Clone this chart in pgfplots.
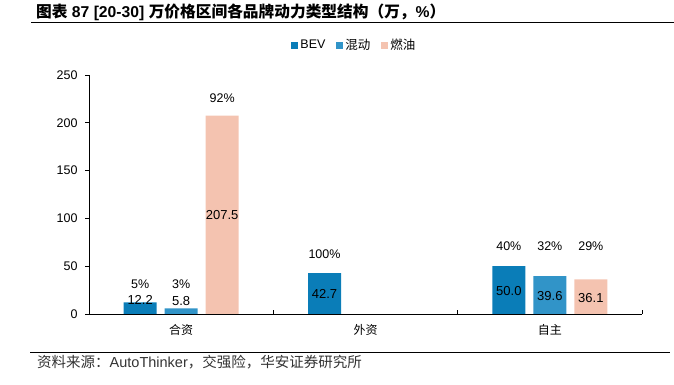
\documentclass[border=0pt]{standalone}
\usepackage{pgfplots}
\pgfplotsset{compat=1.18}
\usepackage{fontspec}
\setmainfont{Liberation Sans}
\newfontfamily\cjk{Noto Sans CJK SC}
\definecolor{cBEV}{HTML}{0A7DB8}
\definecolor{cHEV}{HTML}{3194C8}
\definecolor{cICE}{HTML}{F4C3B0}
\begin{document}
\begin{tikzpicture}[x=1pt,y=1pt]
\path[use as bounding box] (0,0) rectangle (674,385);
\node[anchor=west,inner sep=0] at (36,373) {\fontsize{15.7}{17}\selectfont\bfseries{\cjk\bfseries 图表} 87 [20-30] {\cjk\bfseries 万价格区间各品牌动力类型结构（万，}\%{\cjk\bfseries ）}};
\draw[line width=0.8pt] (31,363) -- (674,363);
\begin{axis}[at={(89pt,71pt)}, anchor=south west, width=553pt, height=239pt, scale only axis,
  xmin=-0.5, xmax=2.5, ymin=0, ymax=250,
  ytick={0,50,...,250}, xtick={0,1,2}, xticklabels={合资,外资,自主},
  minor xtick={-0.5,0.5,1.5,2.5},
  axis x line*=bottom, axis y line*=left, axis line style={-, line width=0.8pt},
  tick align=outside, major tick length=4pt, minor tick length=4pt,
  xtick style={draw=none},
  minor x tick style={yshift=4pt, line width=0.8pt, draw=black},
  ytick style={line width=0.8pt, black},
  /pgf/number format/assume math mode=true,
  yticklabel style={font=\fontsize{12.5}{14}\selectfont, xshift=-4pt},
  xticklabel style={font=\cjk\fontsize{12}{14}\selectfont, yshift=-3pt},
  legend style={at={(0.48,1.125)}, anchor=center, draw=none, legend columns=3,
    font=\fontsize{12.5}{14}\selectfont,
    /tikz/every even column/.append style={column sep=9pt}},
]
\addplot[ybar, bar width=33pt, bar shift=-41pt, fill=cBEV, draw=none,
  legend image code/.code={\fill[cBEV] (0pt,-3.5pt) rectangle (7pt,3.5pt);}] coordinates {(0,12.2) (1,42.7) (2,50.0)};
\addplot[ybar, bar width=33pt, bar shift=0pt, fill=cHEV, draw=none,
  legend image code/.code={\fill[cHEV] (0pt,-3.5pt) rectangle (7pt,3.5pt);}] coordinates {(0,5.8) (2,39.6)};
\addplot[ybar, bar width=33pt, bar shift=41pt, fill=cICE, draw=none,
  legend image code/.code={\fill[cICE] (0pt,-3.5pt) rectangle (7pt,3.5pt);}] coordinates {(0,207.5) (2,36.1)};
\legend{BEV,{\cjk 混动},{\cjk 燃油}}
% value labels
\begin{scope}[every node/.style={font=\fontsize{13}{14}\selectfont, inner sep=0}]
\node[xshift=-41pt] at (axis cs:0,14.6) {12.2};
\node at (axis cs:0,14) {5.8};
\node[xshift=41pt] at (axis cs:0,103.7) {207.5};
\node[xshift=-41pt] at (axis cs:1,21.3) {42.7};
\node[xshift=-41pt] at (axis cs:2,24.5) {50.0};
\node at (axis cs:2,18.8) {39.6};
\node[xshift=41pt] at (axis cs:2,16.8) {36.1};
\end{scope}
\begin{scope}[every node/.style={font=\fontsize{12.5}{14}\selectfont, inner sep=0}]
\node[xshift=-41pt] at (axis cs:0,31.4) {5\%};
\node at (axis cs:0,31.4) {3\%};
\node[xshift=41pt] at (axis cs:0,226) {92\%};
\node[xshift=-41pt] at (axis cs:1,62.8) {100\%};
\node[xshift=-41pt] at (axis cs:2,71) {40\%};
\node at (axis cs:2,71) {32\%};
\node[xshift=41pt] at (axis cs:2,71) {29\%};
\end{scope}
\end{axis}
\draw[line width=0.8pt] (30,33) -- (670,33);
\node[anchor=west,inner sep=0,text=black!80] at (37,23) {\fontsize{14.5}{16}\selectfont{\cjk 资料来源：}AutoThinker{\cjk ，交强险，华安证券研究所}};
\end{tikzpicture}
\end{document}
